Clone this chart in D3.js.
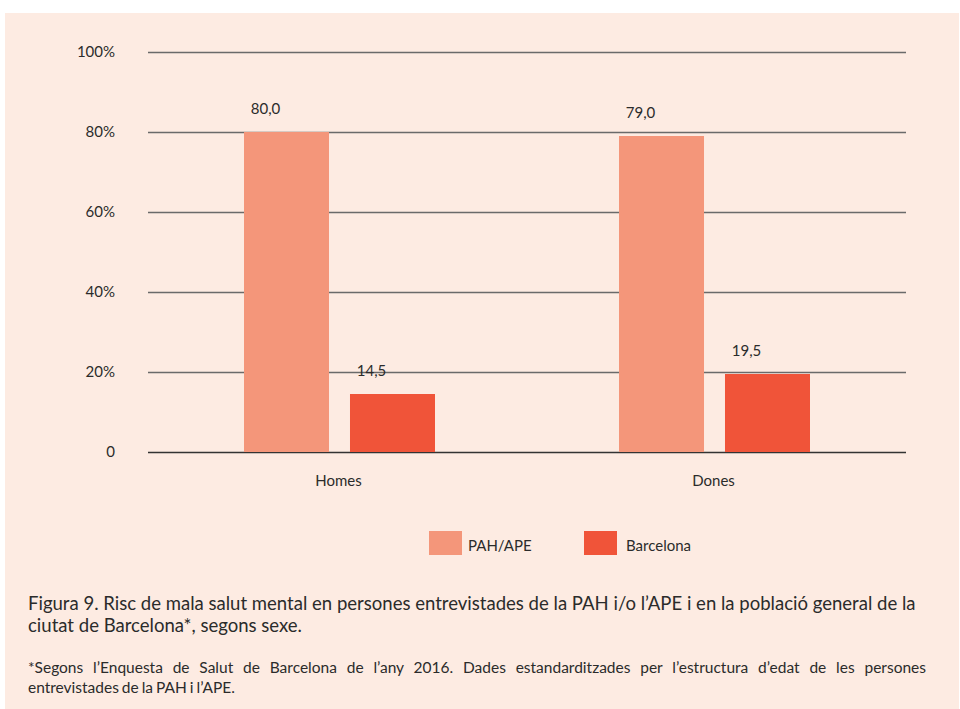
<!DOCTYPE html>
<html><head><meta charset="utf-8">
<script src="https://cdn.jsdelivr.net/npm/d3@7"></script>
<style>
html,body{margin:0;padding:0;background:#fff;}
svg text{font-family:Lato,"Open Sans",sans-serif;fill:#2b2b2b;}
</style></head>
<body>
<svg id="c" width="960" height="709"></svg>
<script>
const categories = ["Homes", "Dones"];
const seriesNames = ["PAH/APE", "Barcelona"];
const pahValues = [80.0, 79.0];
const bcnValues = [14.5, 19.5];
const yTicks = [0, 20, 40, 60, 80, 100];
const captionLines = [
  "Figura 9. Risc de mala salut mental en persones entrevistades de la PAH i/o l\u2019APE i en la poblaci\u00f3 general de la",
  "ciutat de Barcelona*, segons sexe."
];
const noteLines = [
  "*Segons l\u2019Enquesta de Salut de Barcelona de l\u2019any 2016. Dades estandarditzades per l\u2019estructura d\u2019edat de les persones",
  "entrevistades de la PAH i l\u2019APE."
];
const colors = ["#F4967A", "#F05439"];

const svg = d3.select("#c");
svg.append("rect").attr("x",5).attr("y",13).attr("width",954).attr("height",696).attr("fill","#FDEBE2");

const mLeft = 148, mRight = 906, mTop = 52, mBottom = 452;
const x0 = d3.scaleBand().domain(categories).range([152, 902]).paddingInner(0).paddingOuter(0);
const bw = x0.bandwidth();
const x1 = d3.scaleBand().domain(seriesNames).range([bw/2 - 95.5, bw/2 + 95.5]).paddingInner(0.198).paddingOuter(0);
const y = d3.scaleLinear().domain([0, 100]).range([mBottom, mTop]);

// gridlines
const yAxis = d3.axisLeft(y).tickValues(yTicks).tickSize(-(mRight-mLeft)).tickFormat(d => d === 0 ? "0" : d + "%");
const ga = svg.append("g").attr("transform", `translate(${mLeft},0)`).call(yAxis);
ga.select(".domain").remove();
ga.selectAll(".tick line").attr("stroke", d => d === 0 ? "#333" : "#6a6a6a").attr("stroke-width", 1.4);
ga.selectAll(".tick text").attr("x", -33).attr("font-size", 15).attr("fill", "#2b2b2b").style("font-family","Lato");

const data = categories.map((c, i) => ({cat: c, vals: [pahValues[i], bcnValues[i]]}));
const groups = svg.append("g").selectAll("g").data(data).join("g")
  .attr("transform", d => `translate(${x0(d.cat)},0)`);
groups.selectAll("rect").data(d => d.vals.map((v, j) => ({s: seriesNames[j], v, j}))).join("rect")
  .attr("x", d => x1(d.s)).attr("width", x1.bandwidth())
  .attr("y", d => y(d.v)).attr("height", d => y(0) - y(d.v))
  .attr("fill", d => colors[d.j]);
groups.selectAll("text.val").data(d => d.vals.map((v, j) => ({s: seriesNames[j], v, j}))).join("text")
  .attr("class","val")
  .attr("x", d => x1(d.s) + x1.bandwidth()/2 - 21).attr("y", d => y(d.v) - 18)
  .attr("text-anchor","middle").attr("font-size", 15)
  .text(d => d.v.toFixed(1).replace(".", ","));

// x axis labels
const xAxis = d3.axisBottom(x0).tickSize(0).tickPadding(0);
const gx = svg.append("g").attr("transform", `translate(0,${mBottom})`).call(xAxis);
gx.select(".domain").remove();
gx.selectAll(".tick text").attr("y", 34).attr("dy", 0).attr("font-size", 15).attr("fill", "#2b2b2b").style("font-family","Lato")
  .attr("dx", -1);

// legend
const legX = [429, 584];
const lg = svg.append("g");
seriesNames.forEach((s, j) => {
  lg.append("rect").attr("x", legX[j]).attr("y", 531).attr("width", 33).attr("height", 24).attr("fill", colors[j]);
  lg.append("text").attr("x", legX[j] + 39 + (j ? 3 : 0)).attr("y", 551).attr("font-size", 15).text(s);
});

// caption
const cap = svg.append("g");
captionLines.forEach((t, i) => {
  cap.append("text").attr("x", 28).attr("y", 610 + i*22).attr("font-size", 18.55).attr("fill","#333").text(t);
});
noteLines.forEach((t, i) => {
  const tx = cap.append("text").attr("x", 28).attr("y", 673 + i*19.5).attr("font-size", 15.5).attr("fill","#333").text(t);
  if (i === 0) {
    const w = tx.node().getComputedTextLength();
    const spaces = (t.match(/ /g) || []).length;
    const extra = (926 - 28 - w) / spaces;
    tx.attr("word-spacing", extra);
  } else {
    tx.attr("word-spacing", -1);
  }
});
</script>
</body></html>
